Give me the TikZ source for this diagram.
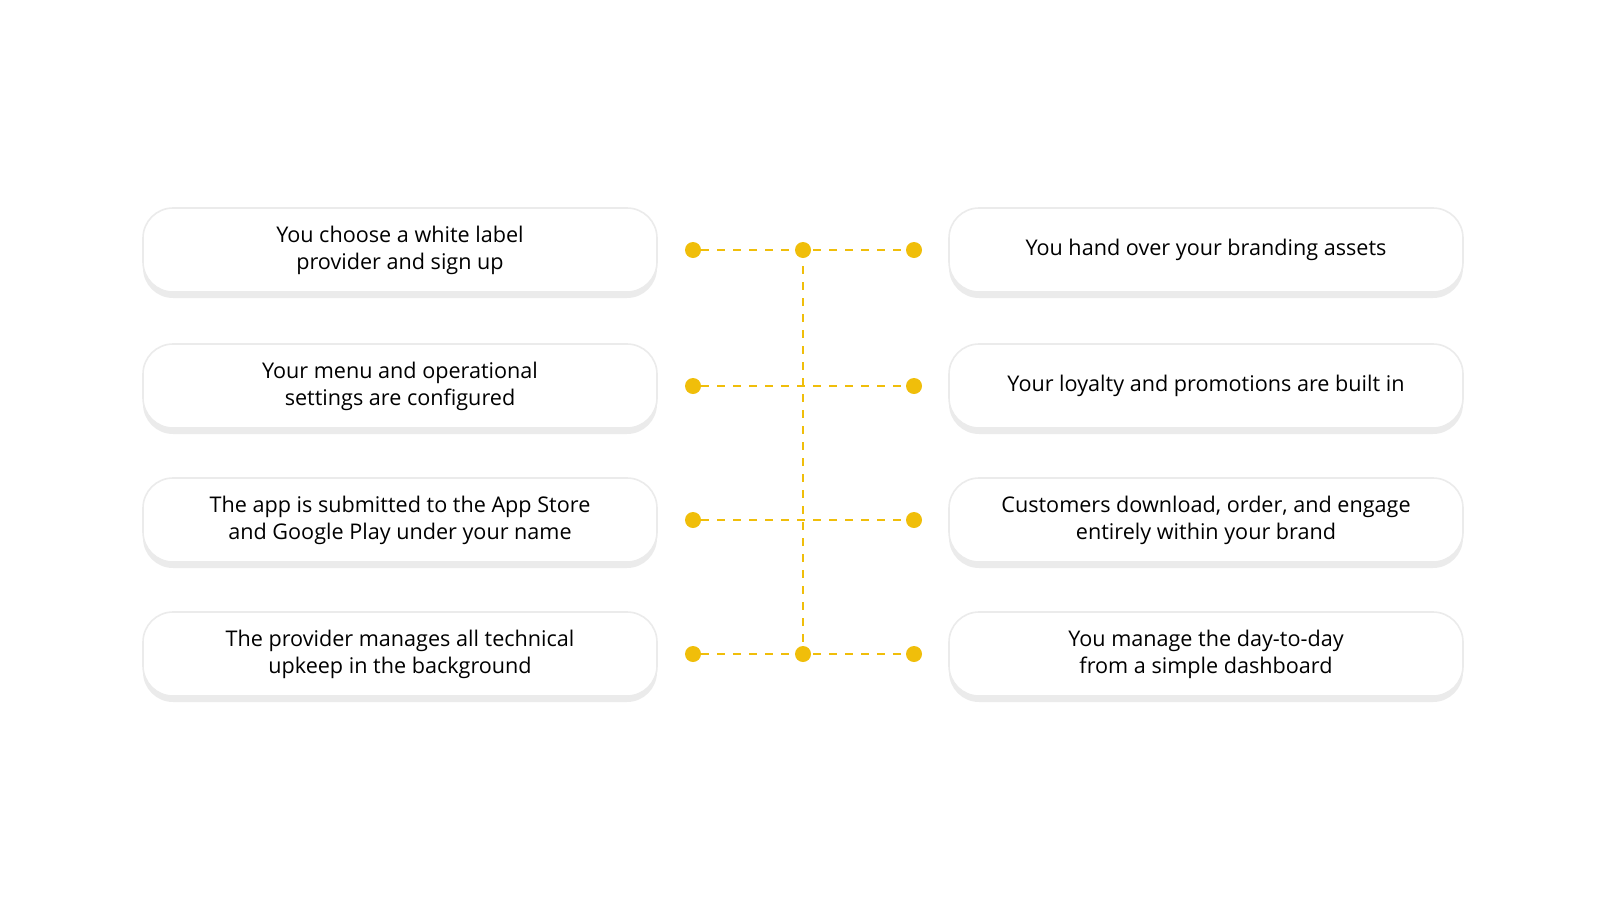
\documentclass[tikz,border=0pt]{standalone}
\usepackage{fontspec}
\setmainfont{Open Sans}
\usetikzlibrary{shadows}
\definecolor{ylw}{HTML}{F0BE0A}
\begin{document}
\begin{tikzpicture}[x=0.5pt,y=-0.5pt,
  box/.style={draw=black!8,line width=0.8pt,fill=white,rounded corners=15pt,minimum width=257pt,minimum height=42pt,align=center,font=\fontsize{10.8}{13.5}\selectfont,
    drop shadow={shadow xshift=0pt,shadow yshift=-3pt,fill=black,opacity=0.08}},
  dot/.style={circle,fill=ylw,inner sep=0pt,minimum size=8pt},
  dl/.style={ylw,line width=1.3pt,dash pattern=on 4pt off 4pt}]
\useasboundingbox (0,0) rectangle (1600,900);
\foreach \i/\y/\lt/\rt in {1/250/{You choose a white label\\provider and sign up}/{You hand over your branding assets},
 2/386/{Your menu and operational\\settings are configured}/{Your loyalty and promotions are built in},
 3/520/{The app is submitted to the App Store\\and Google Play under your name}/{Customers download, order, and engage\\entirely within your brand},
 4/654/{The provider manages all technical\\upkeep in the background}/{You manage the day-to-day\\from a simple dashboard}}{
  \node[box] (l\i) at (400,\y) {\lt};
  \node[box] (r\i) at (1206,\y) {\rt};
  \coordinate (c\i) at (803,\y);
  \node[dot] (dl\i) at (693,\y) {};
  \node[dot] (dr\i) at (914,\y) {};
  \draw[dl] (dl\i) -- (dr\i);
}
\draw[dl] (c1) -- (c4);
\node[dot] (m1) at (c1) {};
\node[dot] (m4) at (c4) {};
\end{tikzpicture}
\end{document}
